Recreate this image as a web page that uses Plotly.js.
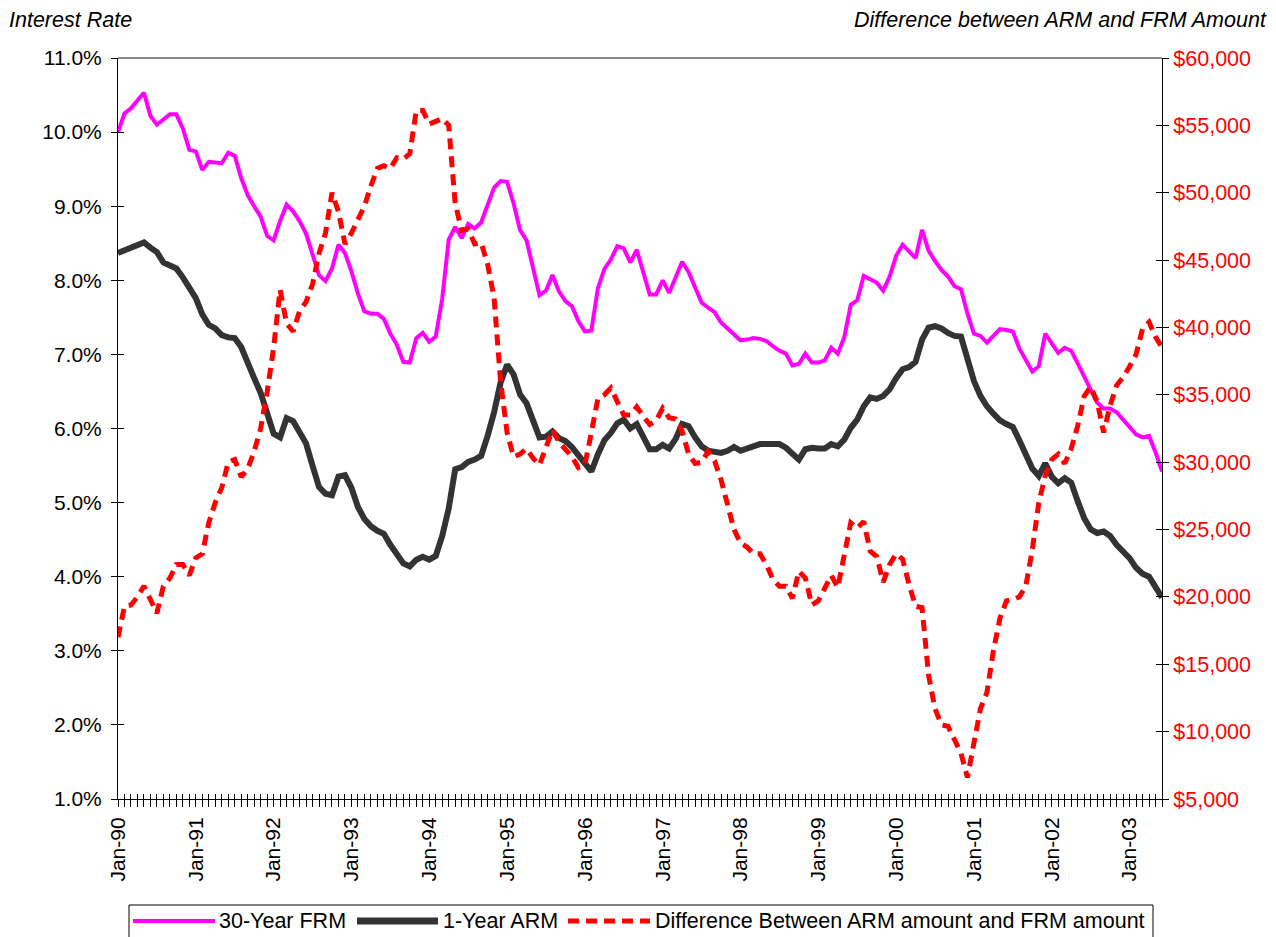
<!DOCTYPE html>
<html>
<head>
<meta charset="utf-8">
<script src="https://cdn.plot.ly/plotly-3.0.1.min.js"></script>
<style>html,body{margin:0;padding:0;background:#fff;}#chart{width:1276px;height:937px;}</style>
</head>
<body>
<div id="chart"></div>
<script>
// ---- tick labels / categories ----
var yearLabels = ['90','91','92','93','94','95','96','97','98','99','00','01','02','03'];
var monthNames = ['Jan','Feb','Mar','Apr','May','Jun','Jul','Aug','Sep','Oct','Nov','Dec'];

// ---- series (monthly, Jan-90 .. Jun-03) ----
var frm30 = [
 10.00,10.25,10.32,10.43,10.53,10.22,10.10,10.17,10.24,10.24,10.05,9.76,
 9.74,9.49,9.60,9.59,9.58,9.72,9.68,9.38,9.15,9.00,8.86,8.60,
 8.54,8.80,9.02,8.93,8.80,8.63,8.33,8.07,7.99,8.16,8.48,8.37,
 8.12,7.82,7.58,7.55,7.55,7.48,7.28,7.13,6.90,6.89,7.22,7.29,
 7.17,7.24,7.75,8.55,8.72,8.57,8.76,8.70,8.78,9.02,9.25,9.34,
 9.33,9.04,8.68,8.54,8.16,7.80,7.86,8.07,7.85,7.72,7.65,7.45,
 7.31,7.32,7.89,8.15,8.28,8.46,8.43,8.24,8.41,8.10,7.81,7.81,
 8.00,7.83,8.04,8.25,8.11,7.90,7.70,7.63,7.57,7.43,7.35,7.27,
 7.19,7.20,7.22,7.21,7.18,7.11,7.05,7.01,6.85,6.87,7.01,6.89,
 6.89,6.92,7.09,7.01,7.23,7.67,7.73,8.06,8.01,7.97,7.86,8.05,
 8.33,8.48,8.39,8.30,8.68,8.40,8.26,8.14,8.05,7.92,7.88,7.55,
 7.28,7.25,7.16,7.25,7.34,7.33,7.31,7.08,6.93,6.77,6.84,7.28,
 7.15,7.02,7.09,7.05,6.88,6.70,6.52,6.35,6.27,6.27,6.22,6.12,
 6.04,5.92,5.88,5.90,5.68,5.42
];
var arm1 = [
 8.37,8.40,8.45,8.48,8.51,8.44,8.38,8.24,8.21,8.16,8.04,7.90,
 7.76,7.54,7.40,7.35,7.26,7.23,7.22,7.10,6.87,6.68,6.48,6.22,
 5.93,5.88,6.14,6.10,5.95,5.80,5.50,5.21,5.12,5.10,5.35,5.37,
 5.20,4.94,4.78,4.68,4.62,4.58,4.43,4.29,4.18,4.14,4.23,4.27,
 4.23,4.28,4.55,4.92,5.45,5.48,5.55,5.58,5.63,5.90,6.22,6.62,
 6.86,6.73,6.46,6.34,6.11,5.88,5.89,5.96,5.87,5.83,5.75,5.65,
 5.55,5.42,5.65,5.84,5.94,6.07,6.12,6.00,6.06,5.89,5.72,5.72,
 5.78,5.73,5.86,6.06,6.03,5.88,5.76,5.70,5.68,5.67,5.70,5.75,
 5.70,5.73,5.78,5.79,5.79,5.79,5.79,5.74,5.65,5.58,5.72,5.74,
 5.73,5.73,5.79,5.76,5.85,6.01,6.12,6.30,6.42,6.40,6.44,6.53,
 6.68,6.80,6.83,6.90,7.20,7.36,7.38,7.35,7.29,7.25,7.24,6.95,
 6.64,6.44,6.30,6.20,6.11,6.06,6.02,5.84,5.66,5.46,5.36,5.53,
 5.35,5.26,5.33,5.27,5.02,4.79,4.64,4.59,4.61,4.55,4.43,4.35,
 4.25,4.12,4.04,4.00,3.85,3.72
];
var diffAmount = [
 17000,19300,19400,20000,20800,19800,18800,20800,21400,22400,22400,21600,
 22900,23200,25500,27000,28100,30000,30200,28900,29500,30800,32500,35200,
 38500,42800,40300,39700,41200,41900,43200,45500,47000,50000,48600,46200,
 47000,48000,49000,50500,51800,52000,51800,52600,52500,52900,56100,56100,
 55100,55300,55500,55000,49200,47200,47300,46200,46300,44700,42200,36000,
 32200,30400,30600,31000,30300,29800,31000,32400,31500,30900,30400,29600,
 29800,32200,34700,35000,35500,34500,33500,33500,34100,33400,32800,33100,
 34000,33300,33200,32300,30600,29900,30000,30800,30100,28700,26800,25000,
 24000,23700,23200,23200,22400,21300,20800,20800,19900,21900,21400,19400,
 19700,20600,21600,20700,22900,25500,25100,25600,23400,23000,21100,22400,
 23200,22800,20900,19300,19200,14200,11700,10500,10400,9400,8400,6600,
 9400,11700,12900,16000,18400,19700,19800,20000,20800,23500,27000,29000,
 30200,30600,29900,31000,32700,34900,35600,34500,32200,34200,35700,36300,
 37100,38000,39900,40400,39300,38500
];
var seriesNames = ['30-Year FRM','1-Year ARM','Difference Between ARM amount and FRM amount'];
var seriesColors = ['#FF00FF','#333333','#FF0000'];
var leftTitle = 'Interest Rate';
var rightTitle = 'Difference between ARM and FRM Amount';

// ---- build month categories ----
var monthLabels = [];
yearLabels.forEach(function(y){ monthNames.forEach(function(m){ monthLabels.push(m + '-' + y); }); });
monthLabels = monthLabels.slice(0, frm30.length);
var idx = monthLabels.map(function(_, i){ return i; });
var tickText = monthLabels.map(function(l){ return l.indexOf('Jan') === 0 ? l : ''; });
var lastIdx = idx.length - 1;

var FONT = '"Liberation Sans", Arial, Helvetica, sans-serif';
var DASH = '11px,7px';

var traces = [
  {x: idx, y: frm30, customdata: monthLabels, name: seriesNames[0], type: 'scatter', mode: 'lines',
   line: {color: seriesColors[0], width: 4}, xaxis: 'x', yaxis: 'y'},
  {x: idx, y: arm1, customdata: monthLabels, name: seriesNames[1], type: 'scatter', mode: 'lines',
   line: {color: seriesColors[1], width: 6}, xaxis: 'x', yaxis: 'y'},
  {x: idx, y: diffAmount, customdata: monthLabels, name: seriesNames[2], type: 'scatter', mode: 'lines',
   line: {color: seriesColors[2], width: 5, dash: DASH}, xaxis: 'x', yaxis: 'y2'},
  // helpers carrying the inner halves of the crossing tick marks
  {x: [0], y: [null], xaxis: 'x2', yaxis: 'y3', mode: 'lines', showlegend: false, hoverinfo: 'skip'},
  {x: [0], y: [null], xaxis: 'x', yaxis: 'y4', mode: 'lines', showlegend: false, hoverinfo: 'skip'}
];

// plot-area pixel geometry helpers for legend/titles placement
var L = 118, R = 1162, T = 58, B = 799;
function px(x){ return (x - L) / (R - L); }
function py(y){ return (B - y) / (B - T); }

var legendY = 921;
var legendItems = [
  {x0: 133, x1: 215, tx: 217, w: 4, dash: 'solid'},
  {x0: 357, x1: 438, tx: 441, w: 7, dash: 'solid'},
  {x0: 568, x1: 650, tx: 653, w: 5, dash: DASH}
];
var shapes = [
  {type: 'line', xref: 'paper', yref: 'paper', x0: 0, x1: 1, y0: 1, y1: 1, line: {color: '#888888', width: 2}},
  {type: 'rect', xref: 'paper', yref: 'paper', x0: px(129), x1: px(1153), y0: py(905), y1: py(950),
   line: {color: '#000000', width: 1}, fillcolor: 'rgba(0,0,0,0)'}
];
var annotations = [
  {text: '<i>' + leftTitle + '</i>', xref: 'paper', yref: 'paper', x: px(7), y: py(20), xanchor: 'left', yanchor: 'middle',
   showarrow: false, font: {family: FONT, size: 21.5, color: '#000'}},
  {text: '<i>' + rightTitle + '</i>', xref: 'paper', yref: 'paper', x: px(1269), y: py(20), xanchor: 'right', yanchor: 'middle',
   showarrow: false, font: {family: FONT, size: 21.5, color: '#000'}}
];
legendItems.forEach(function(it, k){
  shapes.push({type: 'line', xref: 'paper', yref: 'paper', x0: px(it.x0), x1: px(it.x1), y0: py(legendY), y1: py(legendY),
    line: {color: seriesColors[k], width: it.w, dash: it.dash}});
  annotations.push({text: seriesNames[k], xref: 'paper', yref: 'paper', x: px(it.tx), y: py(legendY), xanchor: 'left', yanchor: 'middle',
    showarrow: false, font: {family: FONT, size: 21.5, color: '#000'}});
});

var layout = {
  width: 1276, height: 937,
  margin: {l: L, r: 1276 - R, t: T, b: 937 - B, pad: 0},
  paper_bgcolor: '#ffffff', plot_bgcolor: '#ffffff',
  font: {family: FONT, size: 21, color: '#000'},
  showlegend: false,
  xaxis: {range: [0, lastIdx], tickmode: 'array', tickvals: idx, ticktext: tickText, tickangle: -90,
    ticks: 'outside', ticklen: 7, tickwidth: 1, tickcolor: '#000', showline: true, linecolor: '#000', linewidth: 1,
    showgrid: false, zeroline: false, tickfont: {family: FONT, size: 21, color: '#000'}, ticklabelstandoff: 2},
  xaxis2: {range: [0, lastIdx], overlaying: 'x', anchor: 'y', side: 'bottom', tickmode: 'linear', tick0: 0, dtick: 1,
    ticks: 'inside', ticklen: 5, tickwidth: 1, tickcolor: '#000', showticklabels: false, showline: false,
    showgrid: false, zeroline: false},
  yaxis: {range: [1, 11], tickmode: 'linear', tick0: 1, dtick: 1, tickformat: '.1f', ticksuffix: '%',
    ticks: 'outside', ticklen: 6, tickwidth: 1, tickcolor: '#000', showline: true, linecolor: '#000', linewidth: 1,
    showgrid: false, zeroline: false, tickfont: {family: FONT, size: 21, color: '#000'}, ticklabelstandoff: 5},
  yaxis2: {range: [5000, 60000], overlaying: 'y', side: 'right', anchor: 'x', tickmode: 'linear', tick0: 5000, dtick: 5000,
    tickprefix: '$', tickformat: ',d', ticks: 'outside', ticklen: 6, tickwidth: 1, tickcolor: '#000',
    showline: true, linecolor: '#000', linewidth: 1, showgrid: false, zeroline: false,
    tickfont: {family: FONT, size: 21.5, color: '#FF0000'}},
  yaxis3: {range: [1, 11], overlaying: 'y', side: 'left', anchor: 'x2', tickmode: 'linear', tick0: 1, dtick: 1,
    ticks: 'inside', ticklen: 6, tickwidth: 1, tickcolor: '#000', showticklabels: false, showline: false,
    showgrid: false, zeroline: false},
  yaxis4: {range: [5000, 60000], overlaying: 'y', side: 'right', anchor: 'x', tickmode: 'linear', tick0: 5000, dtick: 5000,
    ticks: 'inside', ticklen: 6, tickwidth: 1, tickcolor: '#000', showticklabels: false, showline: false,
    showgrid: false, zeroline: false},
  shapes: shapes,
  annotations: annotations
};

Plotly.newPlot('chart', traces, layout, {displayModeBar: false, staticPlot: true});
</script>
</body>
</html>
